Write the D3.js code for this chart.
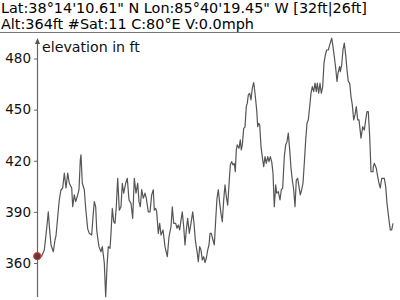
<!DOCTYPE html>
<html>
<head>
<meta charset="utf-8">
<script src="https://cdn.jsdelivr.net/npm/d3@7"></script>
<style>
  body { margin: 0; background: #fff; }
  svg { display: block; font-family: "DejaVu Sans", sans-serif; }
</style>
</head>
<body>
<div class="chart-container"></div>
<script>
// header lines shown above the chart
const headerLines = [
  "Lat:38\u00b014'10.61\" N Lon:85\u00b040'19.45\" W [32ft|26ft]",
  "Alt:364ft #Sat:11 C:80\u00b0E V:0.0mph"
];
const yLabel = "elevation in ft";
const yTicks = [360, 390, 420, 450, 480];

// track point position (distance along track) and elevation in ft
const trackPt = [
  0.3, 4.7, 7.3, 9.7, 11.3, 12.7, 14, 16.3, 18, 19, 20.7, 22.3, 24, 25.7, 27.3, 29, 30.7, 32.3, 34.7, 35.7,
  37.3, 38.7, 40.7, 42, 43.3, 44, 45.3, 47.3, 48.7, 50.7, 52.3, 54.7, 56, 57.3, 58.7, 59.7, 61, 62, 64, 65.3,
  67.3, 68.7, 70, 71.3, 73, 74, 75.3, 76.7, 78, 79.3, 80.7, 82.3, 84, 85.3, 86.7, 88.7, 90.3, 92, 94, 95.7,
  97.3, 99, 100.7, 102, 103.3, 104.7, 106.3, 108, 109.3, 111.3, 113, 114.7, 116.3, 117.3, 118.7, 119.7, 121.3, 122.7, 124, 126,
  128, 130.3, 132, 134, 135.3, 136.7, 138.7, 140, 141.3, 142.7, 144, 145.3, 146.7, 148, 149.3, 150.7, 152.3, 154, 155.7, 157,
  158.3, 160.3, 161.3, 162.7, 164, 165.3, 166.7, 168, 169.3, 170.7, 172, 173, 174.3, 176, 177.3, 178.7, 180, 181.3, 182.7, 184,
  185.3, 186.7, 188, 189.3, 190.7, 192.3, 193.3, 194.7, 196, 197.3, 198.3, 199.3, 200.3, 202, 203.3, 204.3, 205.3, 206.7, 208, 209.3,
  210.3, 211.3, 212.7, 214, 215.3, 216.7, 218, 219.7, 220.7, 221.7, 222.7, 224, 225.7, 226.7, 228, 229.3, 230.7, 232, 233.3, 234.7,
  236, 237.3, 238.7, 239.7, 241.3, 243, 244.3, 245.7, 247.3, 248.7, 250, 251.3, 252.7, 254, 255.3, 256.7, 258, 259.3, 260.7, 262,
  263.3, 264.7, 266, 267.3, 268.7, 270, 271.3, 272.7, 274, 275.3, 276.7, 278, 279.3, 280.3, 281.7, 283, 284.3, 285.7, 287, 288.3,
  289.7, 291.3, 292.7, 294.7, 296, 297.3, 298.7, 300, 301, 302.7, 303.3, 304.7, 306, 307.3, 308.7, 310, 311.3, 312.7, 314, 315.3,
  316.7, 318, 319.3, 320.7, 322, 324, 325.7, 327.3, 328.7, 330, 331.3, 332.7, 334, 335.3, 336, 336.3, 337.3, 339.3, 340.7, 342,
  343.3, 344.7, 346, 347.3, 348.7, 350, 352, 353.3, 354.7, 356, 356.7, 358, 359.3
];
const elevation = [
  364, 364, 367.6, 380.4, 390, 379, 370.6, 366.6, 373.5, 376, 387, 397, 403, 404, 412.7, 404, 412.7, 406.8, 404, 393,
  400, 396, 400, 403, 420.5, 423.4, 406.8, 403, 392, 380, 377.4, 376.4, 387, 396, 393, 379.4, 373.5, 369.6, 366.6, 369.6,
  360, 340.2, 357.8, 369.6, 368.6, 377.4, 392, 384.3, 383.3, 393, 409.7, 391, 393, 406.8, 401, 406.8, 409.7, 397, 395, 386.2,
  409.7, 401, 406.8, 396, 393, 403, 398, 401, 398, 390, 390, 400, 403, 391, 392, 390, 377.4, 383.3, 376.4, 379.4,
  369.6, 363.7, 375.4, 381.3, 393, 383.3, 383.3, 380.4, 382.3, 379.4, 385.2, 390, 381.3, 370.6, 379.4, 386.2, 377.4, 383.3, 390, 383.3,
  373.5, 365.7, 360.8, 369.6, 367.6, 361.8, 363.7, 360.2, 362.8, 367.6, 370.6, 377.4, 377.4, 373.5, 370.6, 385.2, 398, 403, 395, 389,
  384.3, 397, 405.8, 399, 394, 408.7, 417.5, 419.5, 417.5, 418.5, 413.6, 426.4, 429.3, 427.3, 432.2, 426.4, 429.3, 439, 439.7, 451.8,
  453.8, 458.6, 459.6, 455.7, 462.6, 465.9, 459.6, 449.8, 440, 442, 441, 428.3, 420.5, 416.5, 422.4, 418.5, 422.4, 419.5, 422.4, 419.5,
  412.7, 393, 405.8, 401, 401.9, 397, 403, 404, 422.4, 429.3, 431.2, 436.2, 426.4, 415.6, 408.7, 403, 393, 408.7, 409.7, 404.8,
  400, 403, 406.8, 418.5, 432.2, 442, 444, 451.8, 459.6, 463.5, 460.6, 465.5, 460.6, 465.5, 459.6, 465.5, 459.6, 463.5, 477.3, 482,
  485, 485, 488, 492, 487, 481, 474.3, 466.5, 471.4, 475.3, 472.3, 476.3, 485, 489, 482, 473.3, 466.5, 465.5, 457.7, 452.8,
  444, 446.9, 451.8, 444, 444, 433.2, 440, 438, 444, 448.8, 448.8, 434.2, 413.6, 413.6, 413.6, 416.5, 418.5, 415.6, 410.7, 406.8,
  404, 409.7, 409.7, 409.7, 404.8, 395, 385.2, 379.4, 379.4, 383.3
];

const W = 400, H = 300;
const axisX = 37;

const svg = d3.select(".chart-container").append("svg")
  .attr("width", W)
  .attr("height", H);

/* header text */
svg.selectAll("text.header")
  .data(headerLines)
  .enter()
  .append("text")
  .attr("class", "header")
  .attr("x", 1)
  .attr("y", (d, i) => 13 + i * 15.5)
  .style("font-size", "14.4px")
  .style("fill", "#000")
  .text(d => d);

svg.append("line")
  .attr("x1", 0).attr("x2", W)
  .attr("y1", 32.5).attr("y2", 32.5)
  .style("stroke", "#777")
  .style("stroke-width", 1);

/* scales */
const pts = trackPt.map((p, i) => ({ p: p, v: elevation[i] }));
const x = d3.scaleLinear()
  .domain([0, 360])
  .range([axisX, axisX + 360]);
const y = d3.scaleLinear()
  .domain([360, 480])
  .range([263, 58.5]);

/* y axis */
const yAxis = svg.append("g")
  .attr("transform", "translate(" + axisX + ",0)")
  .call(d3.axisLeft(y).tickValues(yTicks).tickSize(3).tickPadding(3));
yAxis.select(".domain").remove();
yAxis.selectAll("line").style("stroke", "#666");
yAxis.selectAll("text")
  .style("font-family", "DejaVu Sans")
  .style("font-size", "13.5px")
  .style("fill", "#111");

svg.append("line")
  .attr("x1", axisX + 0.5).attr("x2", axisX + 0.5)
  .attr("y1", 297).attr("y2", 40)
  .style("stroke", "#666")
  .style("stroke-width", 1.2);
// arrow head at top of axis
svg.append("path")
  .attr("d", d3.line()([[axisX - 2, 44], [axisX + 0.5, 38], [axisX + 3, 44]]) + "Z")
  .style("fill", "#555");

svg.append("text")
  .attr("x", axisX + 5)
  .attr("y", 52)
  .style("font-size", "14.2px")
  .style("fill", "#111")
  .text(yLabel);

/* elevation line */
const line = d3.line()
  .x(d => x(d.p))
  .y(d => y(d.v));

svg.append("path")
  .datum(pts)
  .attr("d", line)
  .style("fill", "none")
  .style("stroke", "#555")
  .style("stroke-width", 1.2)
  .style("stroke-linejoin", "round");

/* current position marker */
svg.append("circle")
  .attr("cx", x(pts[0].p))
  .attr("cy", y(pts[0].v))
  .attr("r", 3.5)
  .style("fill", "#444")
  .style("stroke", "#e53030")
  .style("stroke-width", 1.3);
</script>
</body>
</html>
